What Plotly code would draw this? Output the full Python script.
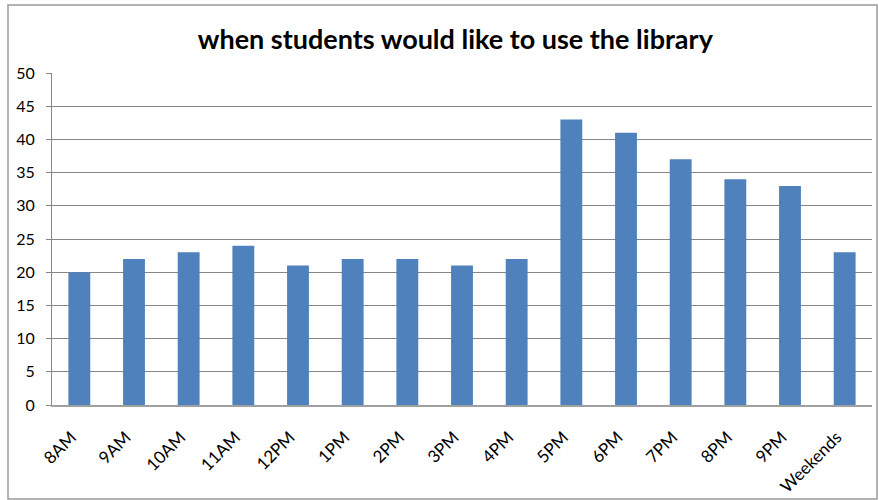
import plotly.graph_objects as go

categories = ["8AM", "9AM", "10AM", "11AM", "12PM", "1PM", "2PM", "3PM", "4PM",
              "5PM", "6PM", "7PM", "8PM", "9PM", "Weekends"]
values = [20, 22, 23, 24, 21, 22, 22, 21, 22, 43, 41, 37, 34, 33, 23]
y_ticks = [0, 5, 10, 15, 20, 25, 30, 35, 40, 45, 50]

W, H = 879, 500
ml, mr, mt, mb = 52, 7, 73, 95
pw, ph = W - ml - mr, H - mt - mb

fig = go.Figure(go.Bar(x=categories, y=values, marker_color="#4F81BD",
                       marker_line_width=0))

def px2x(p):
    return (p - ml) / pw

def px2y(p):
    return (H - mb - p) / ph

fig.update_layout(
    width=W, height=H,
    margin=dict(l=ml, r=mr, t=mt, b=mb),
    paper_bgcolor="white", plot_bgcolor="white",
    bargap=0.6,
    showlegend=False,
    font=dict(family="Lato", size=14, color="black"),
    title=dict(text="<b>when students would like to use the library</b>",
               x=0.518, xanchor="center", y=1 - 40 / H, yanchor="middle",
               font=dict(family="Lato", size=27, color="black")),
    shapes=[dict(type="rect", xref="paper", yref="paper",
                 x0=px2x(8), x1=px2x(877), y0=px2y(5), y1=px2y(499),
                 line=dict(color="#999999", width=1.5), layer="below")],
)
fig.update_yaxes(range=[0, 50], tickvals=y_ticks, showgrid=True,
                 gridcolor="#878787", gridwidth=1, showline=True,
                 linecolor="#878787", linewidth=1, ticks="outside",
                 ticklen=5, tickcolor="#878787", zeroline=False,
                 tickfont=dict(size=16), ticklabelstandoff=8,
                 automargin=False)
fig.update_xaxes(showline=True, linecolor="#a0a0a0", linewidth=1.5,
                 tickangle=-45, tickfont=dict(size=17), ticks="",
                 ticklabelstandoff=14, ticklabelshift=-8, automargin=False)

fig.write_html("out.html")
